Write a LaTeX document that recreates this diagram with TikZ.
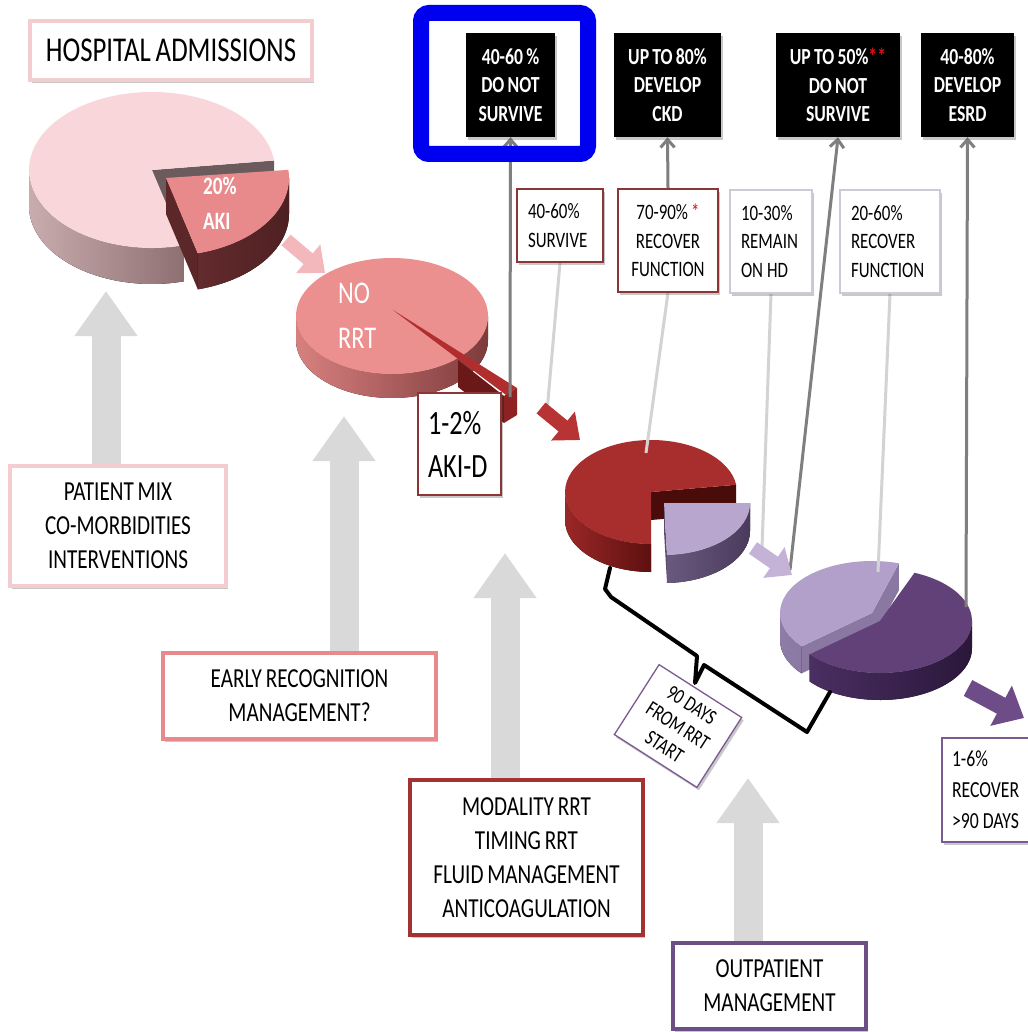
\documentclass[tikz,border=0pt]{standalone}
\usepackage{fontspec}
\newfontfamily\cf[FakeStretch=0.77,WordSpace=0.8]{Carlito}
\usetikzlibrary{arrows.meta,shadows}
\pgfdeclarelayer{back}
\pgfsetlayers{back,main}

\definecolor{pinkline}{HTML}{F4CDD0}
\definecolor{salmonline}{HTML}{E8898C}
\definecolor{redline}{HTML}{A33232}
\definecolor{purpleline}{HTML}{6E4E87}
\definecolor{thinred}{HTML}{8B3535}
\definecolor{thingrey}{HTML}{CFC8D8}
\definecolor{thinpurple}{HTML}{7A5A92}
\definecolor{astred}{HTML}{E01010}
\definecolor{arrowgrey}{HTML}{D9D9D9}
\definecolor{darkgrey}{HTML}{7F7F7F}
\definecolor{lightgrey}{HTML}{D3D3D3}
\definecolor{blueframe}{HTML}{0000F0}
\definecolor{chpink}{HTML}{F2B8BB}
\definecolor{chred}{HTML}{B83333}
\definecolor{chlilac}{HTML}{C4B3D6}
\definecolor{chpurple}{HTML}{6D4C87}
% pie colours
\definecolor{pAtop}{HTML}{F8D6D9}
\definecolor{pAsL}{HTML}{C9ACAE}
\definecolor{pAsR}{HTML}{8E7072}
\definecolor{pAface}{HTML}{6B5B5D}
\definecolor{pBtop}{HTML}{E8898C}
\definecolor{pBsL}{HTML}{6A2F31}
\definecolor{pBsR}{HTML}{4E2022}
\definecolor{pBface}{HTML}{5C2729}
\definecolor{pCtop}{HTML}{EC8F8F}
\definecolor{pCsL}{HTML}{D88080}
\definecolor{pCsR}{HTML}{7E3B3B}
\definecolor{slivside}{HTML}{6A1818}
\definecolor{slivend}{HTML}{8E2222}
\definecolor{slivtop}{HTML}{B02E2E}
\definecolor{pDtop}{HTML}{A82E2E}
\definecolor{pDsL}{HTML}{9A2727}
\definecolor{pDsR}{HTML}{5E1010}
\definecolor{pDface}{HTML}{4A0B0B}
\definecolor{pEtop}{HTML}{B8A6CE}
\definecolor{pEsL}{HTML}{6B5A80}
\definecolor{pEsR}{HTML}{4A3B5C}
\definecolor{pEface}{HTML}{5A4A6C}
\definecolor{pFtop}{HTML}{B3A0CA}
\definecolor{pFsL}{HTML}{8E7DA6}
\definecolor{pFsR}{HTML}{7E6C97}
\definecolor{pFface}{HTML}{8A78A2}
\definecolor{pGtop}{HTML}{614178}
\definecolor{pGsL}{HTML}{4A2F62}
\definecolor{pGsR}{HTML}{2A173A}
\definecolor{pGface}{HTML}{3A2350}

\newcommand{\fsz}[2]{\fontsize{#1}{#2}\selectfont}
\newcommand{\gap}{\hspace{4pt}}

% #1 cx,cy  #2 rx  #3 ry  #4 depth  #5 start  #6 end  #7 side start  #8 side end  #9 style prefix
\newcommand{\pieslice}[9]{%
  \pgfmathtruncatemacro\pvisA{cos(#5)<0}%
  \pgfmathtruncatemacro\pvisB{cos(#6)>0}%
  \ifnum\pvisA=1
    \fill[#9 face] (#1) -- ++(#5:#2 and #3) -- ++(0,#4) -- ++({-#2*cos(#5)},{-#3*sin(#5)}) -- cycle;
  \fi
  \ifnum\pvisB=1
    \fill[#9 face] (#1) -- ++(#6:#2 and #3) -- ++(0,#4) -- ++({-#2*cos(#6)},{-#3*sin(#6)}) -- cycle;
  \fi
  \fill[#9 side] (#1) ++(#7:#2 and #3) arc[start angle=#7, end angle=#8, x radius=#2, y radius=#3]
     -- ++(0,#4) arc[start angle=#8, end angle=#7, x radius=#2, y radius=#3] -- cycle;
  \fill[#9 top] (#1) -- ++(#5:#2 and #3) arc[start angle=#5, end angle=#6, x radius=#2, y radius=#3] -- cycle;
}

\tikzset{
  box/.style={fill=white, inner sep=0pt, align=center,
    drop shadow={shadow xshift=2pt, shadow yshift=-3pt, opacity=0.3, fill=black!70}},
  thickbox/.style={box, draw=#1, line width=4pt},
  thinbox/.style={box, draw=#1, line width=1.3pt},
  medfont/.style={font={\cf\fsz{27.5}{34}}},
  smallfont/.style={font={\cf\fsz{22}{28.5}}},
  blackbox/.style={fill=black, text=white, inner sep=0pt, align=center,
    minimum height=104pt, font={\cf\bfseries\fsz{23}{28.5}},
    drop shadow={shadow xshift=2pt, shadow yshift=-3pt, opacity=0.3, fill=black!70}},
  greyarrow/.style={draw=arrowgrey, line width=29pt, -{Triangle[length=45pt,width=60pt]}},
  chevron/.style={draw=#1, line width=14pt, -{Triangle[length=22pt,width=36pt]}},
  darkline/.style={draw=darkgrey, line width=3pt, -{Straight Barb[length=8pt,width=14pt]}},
  lightline/.style={draw=lightgrey, line width=3pt},
  p1b top/.style={fill=pAtop},
  p1b side/.style={left color=pAsL, right color=pAsR},
  p1b face/.style={fill=pAface},
  p1w top/.style={fill=pBtop},
  p1w side/.style={left color=pBsL, right color=pBsR},
  p1w face/.style={fill=pBface},
  p3b top/.style={fill=pDtop},
  p3b side/.style={left color=pDsL, right color=pDsR},
  p3b face/.style={fill=pDface},
  p3w top/.style={fill=pEtop},
  p3w side/.style={left color=pEsL, right color=pEsR},
  p3w face/.style={fill=pEface},
  p4l top/.style={fill=pFtop},
  p4l side/.style={left color=pFsL, right color=pFsR},
  p4l face/.style={fill=pFface},
  p4d top/.style={fill=pGtop},
  p4d side/.style={left color=pGsL, right color=pGsR},
  p4d face/.style={fill=pGface},
}

\begin{document}
\begin{tikzpicture}[x=1pt,y=-1pt]
\useasboundingbox (0,0) rectangle (1027,1032);

% ---------- boxes ----------
\node[thickbox=pinkline, minimum width=282pt, minimum height=59pt, font={\cf\fsz{34.8}{40}}]
  (hosp) at (171,50.5) {HOSPITAL ADMISSIONS};
\node[thickbox=pinkline, medfont, minimum width=216pt, minimum height=120pt]
  (patient) at (118,526) {PATIENT MIX\\CO-MORBIDITIES\\INTERVENTIONS};
\node[thickbox=salmonline, medfont, minimum width=273pt, minimum height=86pt]
  (early) at (299.5,696) {EARLY RECOGNITION\\MANAGEMENT?};
\node[thickbox=redline, medfont, minimum width=233pt, minimum height=155pt]
  (modality) at (526.5,857.5) {MODALITY RRT\\TIMING RRT\\FLUID MANAGEMENT\\ANTICOAGULATION};
\node[thickbox=purpleline, medfont, minimum width=193pt, minimum height=86pt]
  (outpat) at (769.5,986) {OUTPATIENT\\MANAGEMENT};

\node[thinbox=thinred, align=left, inner xsep=10pt, text width=63pt, minimum width=83pt,
  minimum height=102pt, font={\cf\fsz{34}{43}}]
  (akid) at (459.5,444) {1-2\%\\AKI-D};
\node[thinbox=thinred, smallfont, align=left, inner xsep=11pt, text width=64pt,
  minimum width=86pt, minimum height=73pt]
  (surv) at (560,225.5) {40-60\%\\SURVIVE};
\node[thinbox=thinred, smallfont, minimum width=100pt, minimum height=103pt]
  (rec1) at (668,240.5) {70-90\% \textcolor{astred}{*}\\RECOVER\\FUNCTION};
\node[thinbox=thingrey, smallfont, align=left, inner xsep=11pt, text width=60pt,
  minimum width=82pt, minimum height=103pt]
  (remain) at (771,241.5) {10-30\%\\REMAIN\\ON\gap HD};
\node[thinbox=thingrey, smallfont, align=left, inner xsep=11pt, text width=78pt,
  minimum width=100pt, minimum height=103pt]
  (rec2) at (890,241.5) {20-60\%\\RECOVER\\FUNCTION};
\node[thinbox=thinpurple, align=left, inner xsep=10pt, text width=80pt,
  minimum width=100pt, minimum height=104pt, font={\cf\fsz{23}{31}}]
  (late) at (992,790) {1-6\%\\RECOVER\\>90\gap DAYS};
\node[thinbox=thinpurple, rotate=-32.6, minimum width=98pt, minimum height=83pt,
  font={\cf\fsz{21.5}{25}}]
  (days) at (678,726) {90\gap DAYS\\FROM RRT\\START};

\node[blackbox, minimum width=89pt]  (b1) at (510.5,85) {40-60 \%\\DO NOT\\SURVIVE};
\node[blackbox, minimum width=107pt] (b2) at (667.5,85) {UP TO 80\%\\DEVELOP\\CKD};
\node[blackbox, minimum width=124pt] (b3) at (838,85) {UP TO 50\%\textcolor{astred}{**}\\DO NOT\\SURVIVE};
\node[blackbox, minimum width=93pt]  (b4) at (967.5,85) {40-80\%\\DEVELOP\\ESRD};

% ---------- background layer ----------
\begin{pgfonlayer}{back}
\fill[white] (0,0) rectangle (1027,1032);

% grey up arrows
\coordinate (t1) at (106,291);
\coordinate (t2) at (344,416);
\coordinate (t3) at (505,553);
\coordinate (t4) at (748,778);
\draw[greyarrow] (t1 |- patient.north) -- (t1);
\draw[greyarrow] (t2 |- early.north) -- (t2);
\draw[greyarrow] (t3 |- modality.north) -- (t3);
\draw[greyarrow] (t4 |- outpat.north) -- (t4);

% pie 1
\pieslice{152,170}{123}{78}{36}{75}{353}{75}{180}{p1b}
\pieslice{166,178}{123}{78}{36}{-6}{75}{0}{75}{p1w}
\node[anchor=west, align=left, inner sep=0pt, text=white, font={\cf\bfseries\fsz{25}{35}}]
  (akitxt) at (203,203) {20\%\\AKI};

% pie 2
\fill[left color=pCsL, right color=pCsR] (296,316)
  arc[start angle=180, end angle=0, x radius=96, y radius=58] -- ++(0,24)
  arc[start angle=0, end angle=180, x radius=96, y radius=58] -- cycle;
\fill[pCtop] (392,316) ellipse[x radius=96, y radius=58];
\fill[slivside] (458,360) -- (504,396) -- (504,423) -- (458,387) -- cycle;
\fill[slivend] (504,396) -- (517,388) -- (517,415) -- (504,423) -- cycle;
\fill[slivtop] (393,310) -- (517,388) -- (506,395) -- cycle;
\node[anchor=west, align=left, inner sep=0pt, text=white, font={\cf\fsz{31.6}{45}}]
  (norrt) at (338,316) {NO\\RRT};

% pie 3
\pieslice{651,492}{86}{52}{28}{90}{352}{90}{180}{p3b}
\pieslice{664,503}{86}{52}{28}{0}{88}{0}{88}{p3w}

% pie 4
\pieslice{872,613}{92}{52}{27}{140}{287}{140}{180}{p4l}
\pieslice{880,621}{92}{52}{27}{-68}{140}{0}{140}{p4d}

% connectors
\coordinate (c1) at (547,412);
\coordinate (c2) at (646,453);
\coordinate (c3) at (762,548);
\coordinate (c4) at (878,572);
\draw[lightline] (surv.south) -- (c1);
\draw[lightline] (rec1.south) -- (c2);
\draw[lightline] (remain.south) -- (c3);
\draw[lightline] (rec2.south) -- (c4);

\coordinate (slivpt) at (510,397);
\coordinate (l3end) at (790,570);
\coordinate (l4end) at (966,607);
\draw[darkline] (slivpt) -- (b1.south);
\draw[darkline] (rec1.north) -- (b2.south);
\draw[darkline] (l3end) -- (b3.south);
\draw[darkline] (l4end) -- (b4.south);

% chevrons
\coordinate (ch1s) at (286,240); \coordinate (ch1e) at (325,273);
\coordinate (ch2s) at (541,408); \coordinate (ch2e) at (580,440);
\coordinate (ch3s) at (753,548); \coordinate (ch3e) at (792,575);
\coordinate (ch4s) at (968,688); \coordinate (ch4e) at (1024,718);
\draw[chevron=chpink] (ch1s) -- (ch1e);
\draw[chevron=chred] (ch2s) -- (ch2e);
\draw[chevron=chlilac] (ch3s) -- (ch3e);
\draw[draw=chpurple, line width=18pt, -{Triangle[length=26pt,width=44pt]}] (ch4s) -- (ch4e);
\end{pgfonlayer}

% brace
\draw[line width=4pt, line join=round, line cap=round]
  (610,568) -- (605,589) -- (611,597) -- (697,656) -- (695,683) -- (704,665) -- (807,732) -- (830,692);

% blue frame
\draw[blueframe, line width=16pt, rounded corners=8pt] (421,13) rectangle (588,154);
\end{tikzpicture}
\end{document}
